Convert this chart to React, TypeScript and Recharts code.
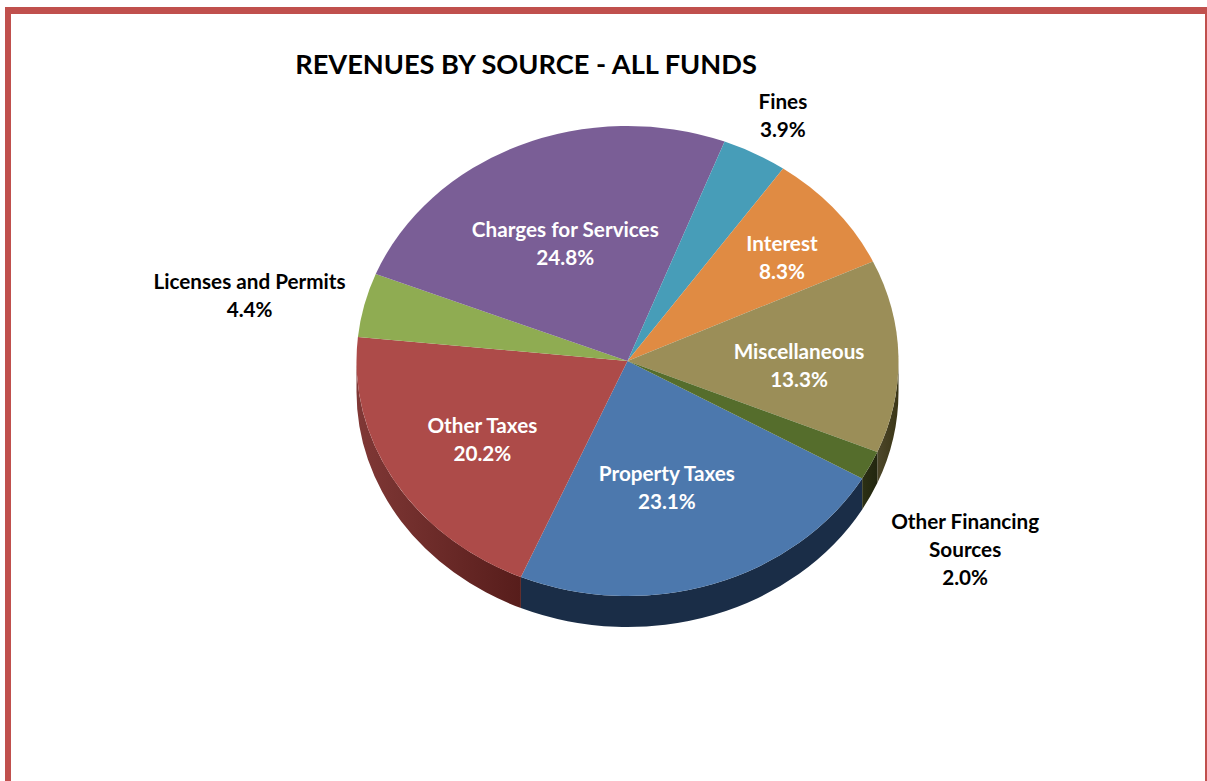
import { Pie, PieChart } from "recharts";

const CATEGORIES = [
  "Property Taxes",
  "Other Taxes",
  "Licenses and Permits",
  "Charges for Services",
  "Fines",
  "Interest",
  "Miscellaneous",
  "Other Financing Sources",
];
const SHARES = [23.1, 20.2, 4.4, 24.8, 3.9, 8.3, 13.3, 2.0];
const TOP_COLORS = ["#4c78ad", "#ad4b49", "#8fac52", "#7a5e96", "#479db8", "#e08b43", "#9b8e58", "#556d2c"];
const WALL_LEFT = ["#1a2d47", "#803836", "#55682f", "#48385a", "#2a5e6e", "#865328", "#4d472a", "#2c3014"];
const WALL_RIGHT = ["#1a2d47", "#571d1b", "#55682f", "#48385a", "#2a5e6e", "#865328", "#3a3516", "#22260f"];

// label text, one array per line
const LABEL_LINES = [
  ["Property Taxes"],
  ["Other Taxes"],
  ["Licenses and Permits"],
  ["Charges for Services"],
  ["Fines"],
  ["Interest"],
  ["Miscellaneous"],
  ["Other Financing", "Sources"],
];
const LABEL_COLORS = ["#fff", "#fff", "#000", "#fff", "#000", "#fff", "#fff", "#000"];
// nudges from the default label spot inside each slice
const LABEL_SHIFT = [
  [-12, -8],
  [-5, 6],
  [-220, -32],
  [3, 11],
  [79, -121.5],
  [30, -13],
  [9, 7],
  [192, 125],
];

const data = CATEGORIES.map((name, i) => ({ name, value: SHARES[i] }));

const FONT = "Lato, sans-serif";
const CX = 627.5;
const CY = 361;
const RX = 271;
const SQUASH = 235 / 271; // the pie is tilted, so it reads as an ellipse
const DEPTH = 31;
const RAD = Math.PI / 180;

function edge(cx: number, cy: number, r: number, deg: number) {
  return [cx + r * Math.cos(deg * RAD), cy - r * SQUASH * Math.sin(deg * RAD)];
}

function TopSlice(props: any) {
  const { cx, cy, outerRadius: r, startAngle, endAngle, fill } = props;
  const [x1, y1] = edge(cx, cy, r, startAngle);
  const [x2, y2] = edge(cx, cy, r, endAngle);
  const large = Math.abs(startAngle - endAngle) > 180 ? 1 : 0;
  const sweep = startAngle > endAngle ? 1 : 0;
  const d = `M${cx},${cy}L${x1},${y1}A${r},${r * SQUASH} 0 ${large} ${sweep} ${x2},${y2}Z`;
  return <path d={d} fill={fill} />;
}

function WallSlice(props: any) {
  const { cx, cy, outerRadius: r, startAngle, endAngle, index } = props;
  const hi = Math.max(startAngle, endAngle);
  const lo = Math.min(startAngle, endAngle);
  const parts: string[] = [];
  // only the front half of the rim is visible
  for (const k of [-1, 0, 1]) {
    const a = Math.min(hi, 360 * k);
    const b = Math.max(lo, 360 * k - 180);
    if (a <= b) continue;
    const [x1, y1] = edge(cx, cy, r, a);
    const [x2, y2] = edge(cx, cy, r, b);
    const ry = r * SQUASH;
    parts.push(
      `M${x1},${y1}A${r},${ry} 0 0 1 ${x2},${y2}L${x2},${y2 + DEPTH}A${r},${ry} 0 0 0 ${x1},${y1 + DEPTH}Z`,
    );
  }
  if (!parts.length) return null;
  const id = `wall-${index}`;
  return (
    <g>
      <defs>
        <linearGradient id={id} x1="0" y1="0" x2="1" y2="0">
          <stop offset="0" stopColor={WALL_LEFT[index]} />
          <stop offset="1" stopColor={WALL_RIGHT[index]} />
        </linearGradient>
      </defs>
      <path d={parts.join("")} fill={`url(#${id})`} />
    </g>
  );
}

function SliceLabel(props: any) {
  const { cx, cy, outerRadius: r, midAngle, index } = props;
  const [bx, by] = edge(cx, cy, r * 0.6, midAngle);
  const x = bx + LABEL_SHIFT[index][0];
  const lines = [...LABEL_LINES[index], `${SHARES[index].toFixed(1)}%`];
  const top = by + LABEL_SHIFT[index][1] - ((lines.length - 1) * 28) / 2;
  return (
    <text
      x={x}
      y={top}
      textAnchor="middle"
      dominantBaseline="central"
      fontFamily={FONT}
      fontWeight={700}
      fontSize={20.7}
      fill={LABEL_COLORS[index]}
    >
      {lines.map((line, i) => (
        <tspan key={i} x={x} y={top + i * 28}>
          {line}
        </tspan>
      ))}
    </text>
  );
}

export default function App() {
  return (
    <div style={{ position: "absolute", left: 0, top: 0, width: 1207, height: 781, background: "#fff", overflow: "hidden" }}>
      <div
        style={{
          position: "absolute",
          left: 5,
          top: 7,
          width: 1202,
          height: 774,
          boxSizing: "border-box",
          borderTop: "7px solid #c0504d",
          borderLeft: "6px solid #c0504d",
          borderRight: "2px solid #c0504d",
        }}
      />
      <div
        style={{
          position: "absolute",
          left: 295,
          top: 46,
          width: 462,
          textAlign: "center",
          whiteSpace: "nowrap",
          fontFamily: FONT,
          fontWeight: 700,
          fontSize: 27.2,
          lineHeight: "36px",
          color: "#000",
        }}
      >
        REVENUES BY SOURCE - ALL FUNDS
      </div>
      <div style={{ position: "absolute", left: 0, top: 0 }}>
        <PieChart width={1207} height={781} margin={{ top: 0, right: 0, bottom: 0, left: 0 }}>
          <Pie
            data={data}
            dataKey="value"
            nameKey="name"
            cx={CX}
            cy={CY}
            outerRadius={RX}
            startAngle={-30}
            endAngle={-390}
            stroke="none"
            shape={WallSlice}
            isAnimationActive={false}
          />
          <Pie
            data={data.map((d, i) => ({ ...d, fill: TOP_COLORS[i] }))}
            dataKey="value"
            nameKey="name"
            cx={CX}
            cy={CY}
            outerRadius={RX}
            startAngle={-30}
            endAngle={-390}
            stroke="none"
            shape={TopSlice}
            label={SliceLabel}
            labelLine={false}
            isAnimationActive={false}
          />
        </PieChart>
      </div>
    </div>
  );
}
